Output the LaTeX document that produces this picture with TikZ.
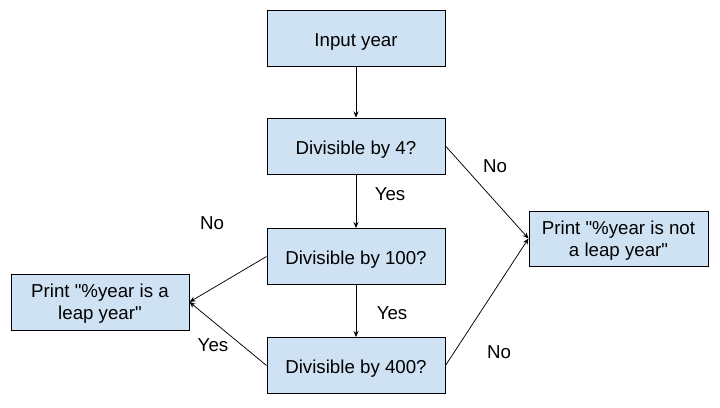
\documentclass[tikz,border=0pt]{standalone}
\usepackage{fontspec}
\setmainfont{Liberation Sans}[Ligatures=TeXOff]
\usetikzlibrary{arrows.meta}
\definecolor{boxblue}{HTML}{CFE2F3}
\newcommand\myOneStrut{\rule{0pt}{20pt}}
\newcommand\myTwoStrut{\rule{0pt}{17.5pt}}
\newcommand\myQuote{\symbol{34}}
\tikzset{
  flowbox/.style={draw=black, fill=boxblue, line width=1pt, minimum width=178pt, minimum height=56pt, inner sep=0pt, align=center, font=\fontsize{18.7}{21.7}\selectfont},
  conn/.style={draw=black, line width=0.75pt, -{Stealth[length=6pt,width=5pt]}},
  lbl/.style={font=\fontsize{18.7}{21.7}\selectfont, inner sep=0pt}
}
\begin{document}
\begin{tikzpicture}[x=1pt,y=-1pt]
\useasboundingbox (0,0) rectangle (720,407);
\node[flowbox] (input) at (356,38) {\myOneStrut Input year};
\node[flowbox] (div4) at (356,146) {\myOneStrut Divisible by 4?};
\node[flowbox] (div100) at (356,256.5) {\myOneStrut Divisible by 100?};
\node[flowbox] (div400) at (356,365.5) {\myOneStrut Divisible by 400?};
\node[flowbox] (leap) at (100,302) {\myTwoStrut Print \myQuote\%year is a\\leap year\myQuote};
\node[flowbox, minimum width=179pt, minimum height=55pt] (notleap) at (618.5,238.5) {\myTwoStrut Print \myQuote\%year is not\\a leap year\myQuote};
\draw[conn] (input) -- (div4);
\draw[conn] (div4) -- (div100);
\draw[conn] (div100) -- (div400);
\draw[conn] (div4.east) -- (notleap.west);
\draw[conn] (div400.east) -- (notleap.west);
\draw[conn] (div100.west) -- (leap.east);
\draw[conn] (div400.west) -- (leap.east);
\node[lbl] (l1) at (495,166) {No};
\node[lbl] (l2) at (390,194) {Yes};
\node[lbl] (l3) at (212,223) {No};
\node[lbl] (l4) at (392,313) {Yes};
\node[lbl] (l5) at (213,345) {Yes};
\node[lbl] (l6) at (499,352) {No};
\end{tikzpicture}
\end{document}
